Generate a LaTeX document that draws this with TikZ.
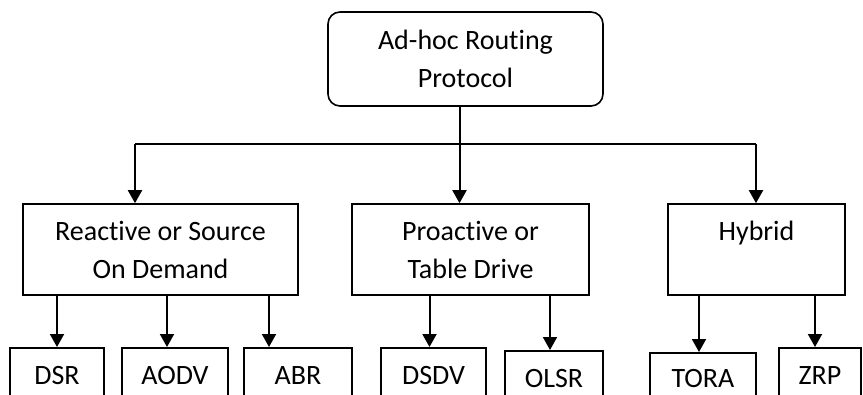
\documentclass[tikz,border=0pt]{standalone}
\usepackage{fontspec}
\setmainfont[Ligatures=NoCommon]{Carlito}
\usetikzlibrary{arrows.meta}

\tikzset{
    box/.style={draw,line width=1.6pt,align=center,font=\fontsize{28}{38}\selectfont},
    leaf/.style={draw,line width=1.6pt,anchor=north,inner ysep=19pt,text height=18pt,text depth=0pt,font=\fontsize{28}{38}\selectfont},
    arr/.style={line width=2pt,-{Triangle[length=13pt,width=14pt]}}
}

\begin{document}
\begin{tikzpicture}[x=1pt,y=-1pt]
        \useasboundingbox (0,0) rectangle (863,394);
        \clip (0,0) rectangle (863,394);
        \node[box,rounded corners=12pt,minimum width=275pt,minimum height=94pt] (top) at (465.5,59) {Ad-hoc Routing\\Protocol};
        \node[box,minimum width=275pt,minimum height=91pt] (rea) at (160.5,249.5) {Reactive or Source\\On Demand};
        \node[box,minimum width=237pt,minimum height=91pt] (pro) at (470.5,249.5) {Proactive or\\Table Drive};
        \node[box,minimum width=177pt,minimum height=91pt] (hyb) at (756.5,249.5) {Hybrid\\\mbox{}};
        \node[leaf,minimum width=94pt] (dsr) at (57,347) {DSR};
        \node[leaf,minimum width=106pt] (aodv) at (175,347) {AODV};
        \node[leaf,minimum width=108pt] (abr) at (298,347) {ABR};
        \node[leaf,minimum width=105pt] (dsdv) at (433.5,347) {DSDV};
        \node[leaf,minimum width=98pt] (olsr) at (554,350) {OLSR};
        \node[leaf,minimum width=106pt,inner ysep=17pt] (tora) at (703,352) {TORA};
        \node[leaf,minimum width=82pt] (zrp) at (820,347) {ZRP};
        \coordinate (busl) at (135,144);
        \coordinate (busr) at (756,144);
        \draw[line width=2pt] (busl) -- (busr);
        \draw[arr] ([xshift=-6pt]top.south) -- ([xshift=-6pt]top.south |- pro.north);
        \draw[arr] (busl) -- (busl |- rea.north);
        \draw[arr] (busr) -- (busr |- hyb.north);
        \draw[arr] (dsr.north |- rea.south) -- (dsr.north);
        \draw[arr] ([xshift=-8pt]aodv.north |- rea.south) -- ([xshift=-8pt]aodv.north);
        \draw[arr] ([xshift=-29pt]abr.north |- rea.south) -- ([xshift=-29pt]abr.north);
        \draw[arr] ([xshift=-4pt]dsdv.north |- pro.south) -- ([xshift=-4pt]dsdv.north);
        \draw[arr] ([xshift=-4pt]olsr.north |- pro.south) -- ([xshift=-4pt]olsr.north);
        \draw[arr] ([xshift=-4pt]tora.north |- hyb.south) -- ([xshift=-4pt]tora.north);
        \draw[arr] ([xshift=-5pt]zrp.north |- hyb.south) -- ([xshift=-5pt]zrp.north);
    \end{tikzpicture}
\end{document}
